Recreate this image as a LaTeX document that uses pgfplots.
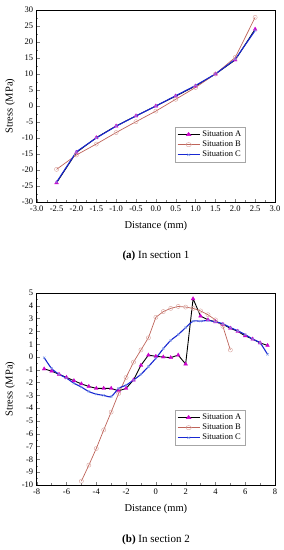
\documentclass[border=0pt]{standalone}
\usepackage{fontspec}
\setmainfont{Liberation Serif}
\usepackage{pgfplots}
\pgfplotsset{compat=1.18}
\definecolor{cA}{RGB}{0,0,0}
\definecolor{mA}{RGB}{204,0,204}
\definecolor{cB}{RGB}{190,100,90}
\definecolor{cC}{RGB}{25,40,210}
\definecolor{mC}{RGB}{120,150,230}
\pgfplotsset{
  common/.style={
    scale only axis,
    width=238.3pt, height=192pt,
    tick align=inside, tick pos=left,
    minor tick num=1,
    major tick length=3pt, minor tick length=1.5pt,
    /pgf/number format/assume math mode=true,
    ticklabel style={font=\fontsize{8.5}{9}\selectfont},
    label style={font=\fontsize{10.5}{12}\selectfont},
    xlabel={Distance (mm)}, ylabel={Stress (MPa)},
    axis line style={black, line width=0.5pt},
    legend style={draw=gray!70, line width=0.4pt, font=\fontsize{8.5}{10}\selectfont, inner sep=1.5pt, row sep=-1pt,
      at={(0.874,0.208)}, anchor=south east},
    legend image post style={xscale=1.3},
    legend cell align=left,
    xlabel style={yshift=-3pt},
  },
  stA/.style={cA, line width=0.9pt, mark=triangle*, mark size=2.2pt, mark options={mA, fill=mA, line width=0.3pt}},
  stB/.style={cB, line width=0.7pt, mark=o, mark size=2.1pt, mark options={cB!60, fill=white, line width=0.4pt}},
  stC/.style={cC, line width=1.1pt, mark=x, mark size=1.6pt, mark options={mC, line width=0.4pt}},
}
\begin{document}
\begin{tikzpicture}
\useasboundingbox (0pt,0pt) rectangle (284pt,550pt);
\begin{axis}[common, at={(36.7pt,348pt)}, anchor=south west,
  xmin=-3, xmax=3, ymin=-30, ymax=30,
  xtick={-3,-2.5,...,3}, ytick={-30,-25,...,30},
  xticklabel style={/pgf/number format/.cd, fixed, fixed zerofill, precision=1},
]
\addplot[stA] coordinates {(-2.5,-24) (-2,-14.5) (-1.5,-9.9) (-1,-6.25) (-0.5,-3.1) (0,0) (0.5,3.1) (1,6.25) (1.5,10) (2,14.4) (2.5,24)};
\addlegendentry{Situation A}
\addplot[stB] coordinates {(-2.5,-19.8) (-2,-15.3) (-1.5,-11.9) (-1,-8.3) (-0.5,-4.9) (0,-1.6) (0.5,2.1) (1,5.8) (1.5,10) (2,15.2) (2.5,27.7)};
\addlegendentry{Situation B}
\addplot[stC] coordinates {(-2.5,-23.8) (-2,-14.3) (-1.5,-10) (-1,-6.3) (-0.5,-3.1) (0,0) (0.5,3.2) (1,6.4) (1.5,10) (2,14.6) (2.5,23.6)};
\addlegendentry{Situation C}
\end{axis}
\node[font=\fontsize{11}{13}\selectfont] at (156pt,294pt) {\textbf{(a)} In section 1};
\begin{axis}[common, at={(36.7pt,65pt)}, anchor=south west,
  xmin=-8, xmax=8, ymin=-10, ymax=5,
  xtick={-8,-6,...,8}, ytick={-10,-9,...,5},
]
\addplot[stA] coordinates {(-7.5,-0.93) (-7,-1.1) (-6.5,-1.35) (-6,-1.6) (-5.5,-1.85) (-5,-2.1) (-4.5,-2.3) (-4,-2.45) (-3.5,-2.45) (-3,-2.45) (-2.5,-2.65) (-2,-2.45) (-1.5,-1.8) (-1,-0.65) (-0.5,0.15) (0,0.05) (0.5,0.0) (1,-0.05) (1.5,0.15) (2,-0.55) (2.5,4.55) (3,3.2) (3.5,2.9) (4,2.75) (4.5,2.55) (5,2.25) (5.5,2.0) (6,1.65) (6.5,1.4) (7,1.1) (7.5,0.9)};
\addlegendentry{Situation A}
\addplot[stB] coordinates {(-5,-9.7) (-4.5,-8.45) (-4,-7.15) (-3.5,-5.7) (-3,-4.3) (-2.5,-2.85) (-2,-1.6) (-1.5,-0.4) (-1,0.55) (-0.5,1.5) (0,3.1) (0.5,3.55) (1,3.8) (1.5,3.95) (2,3.9) (2.5,3.8) (3,3.6) (3.5,3.3) (4,2.9) (4.5,2.4) (5,0.55)};
\addlegendentry{Situation B}
\addplot[stC, smooth, tension=0.4] coordinates {(-7.5,-0.05) (-7,-0.9) (-6.5,-1.35) (-6,-1.65) (-5.5,-2.05) (-5,-2.35) (-4.5,-2.7) (-4,-2.9) (-3.5,-3.0) (-3,-3.1) (-2.5,-2.45) (-2,-2.2) (-1.5,-1.8) (-1,-1.35) (-0.5,-0.75) (0,-0.1) (0.5,0.65) (1,1.3) (1.5,1.75) (2,2.3) (2.5,2.8) (3,2.8) (3.5,2.85) (4,2.75) (4.5,2.6) (5,2.3) (5.5,2.05) (6,1.75) (6.5,1.4) (7,1.1) (7.5,0.2)};
\addlegendentry{Situation C}
\end{axis}
\node[font=\fontsize{11}{13}\selectfont] at (156pt,10pt) {\textbf{(b)} In section 2};
\end{tikzpicture}
\end{document}
